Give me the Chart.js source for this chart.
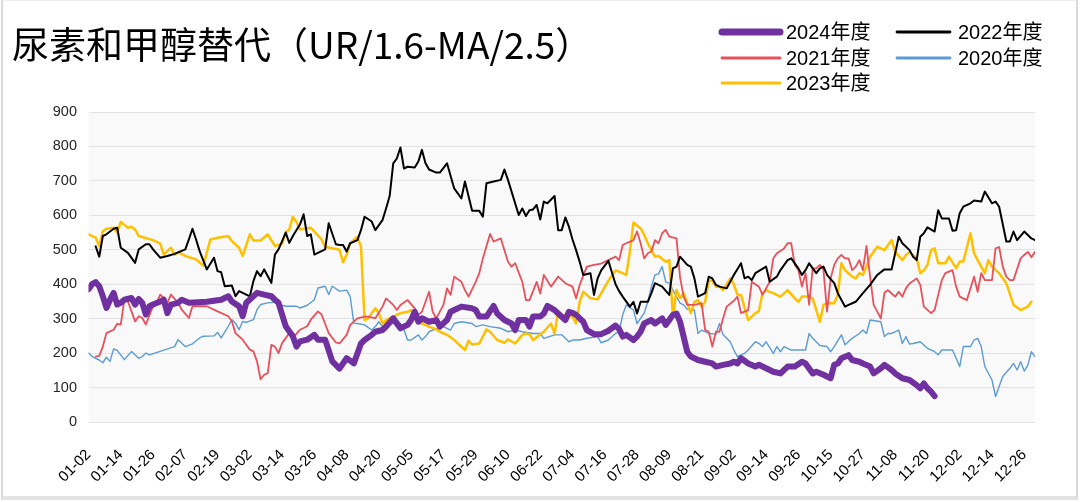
<!DOCTYPE html>
<html><head><meta charset="utf-8">
<script src="https://cdn.jsdelivr.net/npm/chart.js@4.4.1/dist/chart.umd.min.js"></script>
<style>
html,body{margin:0;padding:0;background:#fff;}
#wrap{position:relative;width:1080px;height:502px;overflow:hidden;}
#frame{position:absolute;left:1px;top:0;width:1073px;height:495px;border-left:2px solid #d9d9d9;border-right:2px solid #d9d9d9;border-bottom:4px solid #e3e3e3;border-top:1px solid #eeeeee;pointer-events:none;}
</style></head><body>
<div id="wrap"><canvas id="c" width="1080" height="502"></canvas><div id="frame"></div></div>
<script>
const titleText = '尿素和甲醇替代（UR/1.6-MA/2.5）';
const tickLabels = ['01-02','01-14','01-26','02-07','02-19','03-02','03-14','03-26','04-08','04-20','05-05','05-17','05-29','06-10','06-22','07-04','07-16','07-28','08-09','08-21','09-02','09-14','09-26','10-15','10-27','11-08','11-20','12-02','12-14','12-26'];
const tickStep = 9;
const lastDay = 264;
const yTicks = [0,100,200,300,400,500,600,700,800,900];

// [trading-day index, value]
const s2024 = [[0,385],[1,400],[2,406],[3,394],[4,365],[5,331],[6,355],[7,375],[8,341],[9,346],[10,355],[12,360],[13,341],[14,357],[15,346],[16,312],[17,336],[18,341],[20,350],[21,355],[22,316],[23,341],[25,346],[26,355],[28,346],[33,349],[37,355],[39,365],[40,350],[42,336],[43,307],[44,346],[46,365],[47,375],[49,370],[51,365],[52,355],[53,346],[54,312],[55,278],[57,249],[58,219],[59,234],[61,239],[63,253],[64,239],[66,239],[68,176],[70,155],[72,185],[73,178],[74,170],[76,228],[77,238],[79,253],[80,262],[82,267],[83,277],[85,301],[86,286],[87,272],[89,282],[90,296],[91,320],[92,291],[93,301],[95,291],[97,296],[98,277],[100,296],[101,320],[102,325],[104,335],[107,330],[108,325],[109,306],[111,306],[113,337],[114,315],[116,296],[118,286],[119,267],[120,296],[122,296],[123,277],[124,306],[126,306],[127,315],[128,337],[130,325],[131,315],[133,296],[134,320],[135,317],[136,311],[138,291],[139,267],[141,255],[143,255],[145,265],[147,280],[148,270],[149,248],[150,253],[152,238],[153,248],[154,262],[155,286],[157,296],[158,286],[160,301],[161,282],[162,296],[163,311],[164,315],[165,291],[167,204],[168,190],[170,180],[172,175],[174,170],[175,161],[177,166],[179,170],[180,175],[181,170],[182,185],[184,170],[186,161],[187,166],[189,156],[191,146],[193,141],[195,161],[197,161],[199,175],[200,170],[202,141],[203,146],[205,137],[207,127],[208,166],[209,170],[210,185],[212,194],[213,180],[215,175],[216,170],[218,161],[219,141],[221,156],[222,166],[224,151],[225,141],[227,127],[229,122],[231,107],[232,98],[233,112],[234,98],[235,88],[236,75]];

const s2022 = [[2,510],[3,480],[4,540],[5,545],[7,561],[8,564],[9,506],[11,491],[13,462],[14,501],[16,516],[17,516],[18,501],[20,477],[22,482],[24,488],[27,501],[28,530],[29,561],[30,530],[31,496],[33,443],[35,477],[36,438],[37,435],[38,394],[40,396],[41,365],[42,380],[44,370],[45,365],[46,409],[47,438],[48,423],[49,443],[51,404],[52,486],[53,501],[54,525],[55,550],[56,520],[57,540],[59,574],[60,603],[61,540],[62,545],[63,486],[66,501],[67,577],[69,516],[70,514],[71,514],[72,495],[73,519],[75,528],[76,557],[77,596],[79,582],[80,557],[82,586],[83,620],[84,656],[85,751],[86,765],[87,797],[88,736],[89,741],[91,739],[92,756],[93,790],[94,751],[95,733],[97,724],[98,724],[100,751],[102,678],[103,664],[104,649],[105,698],[107,613],[109,613],[110,596],[111,693],[113,698],[115,703],[116,733],[117,703],[120,601],[121,620],[122,598],[123,615],[124,617],[125,630],[126,588],[127,640],[128,635],[130,656],[131,557],[132,557],[133,594],[134,567],[135,530],[136,499],[137,465],[138,427],[140,432],[141,369],[142,417],[143,440],[145,468],[147,400],[148,380],[149,364],[151,335],[152,349],[153,315],[154,349],[156,349],[157,374],[158,403],[160,393],[162,369],[163,446],[164,451],[165,480],[167,456],[168,451],[169,417],[170,364],[171,369],[172,374],[173,422],[174,417],[175,398],[176,393],[178,388],[180,427],[182,461],[183,417],[184,422],[185,412],[186,432],[189,451],[190,407],[192,422],[193,441],[195,470],[196,475],[198,446],[199,427],[200,441],[201,461],[202,446],[203,432],[204,446],[205,451],[206,427],[207,415],[208,403],[209,374],[211,335],[212,340],[214,349],[216,374],[218,398],[220,427],[222,443],[224,443],[225,490],[226,538],[227,519],[229,499],[230,480],[231,470],[232,538],[233,548],[234,565],[236,553],[237,615],[238,591],[240,591],[241,555],[242,557],[243,606],[244,625],[246,635],[247,643],[249,640],[250,669],[252,635],[253,640],[254,625],[256,524],[257,524],[258,553],[259,528],[261,553],[263,533],[264,528]];

const s2021 = [[2,190],[3,192],[4,219],[5,258],[7,268],[8,285],[9,283],[10,355],[11,350],[13,292],[14,307],[15,302],[16,283],[18,336],[19,346],[20,370],[21,360],[22,346],[23,370],[25,346],[26,326],[28,302],[29,336],[33,336],[36,321],[39,307],[40,292],[41,258],[43,239],[45,210],[46,205],[47,176],[48,124],[49,137],[50,142],[51,224],[52,219],[53,200],[54,229],[56,258],[57,244],[59,268],[61,278],[62,297],[64,321],[65,312],[67,258],[69,231],[70,228],[72,253],[73,282],[75,301],[77,306],[78,306],[80,301],[82,335],[83,359],[85,340],[86,325],[87,340],[89,354],[91,330],[92,311],[93,320],[95,378],[96,320],[97,301],[99,340],[100,388],[101,369],[102,422],[104,407],[105,383],[106,364],[108,407],[109,432],[110,475],[112,546],[113,524],[115,533],[117,465],[118,451],[119,461],[121,407],[122,354],[123,354],[125,407],[126,373],[127,427],[129,393],[131,422],[133,403],[135,393],[136,359],[137,398],[139,451],[141,456],[143,460],[145,470],[147,480],[148,470],[149,514],[150,519],[152,528],[153,553],[154,519],[155,475],[156,490],[157,495],[158,528],[159,519],[160,548],[161,558],[162,538],[164,533],[165,420],[166,364],[167,340],[169,340],[171,345],[172,267],[173,262],[174,219],[175,262],[176,262],[177,301],[178,335],[180,352],[181,364],[182,316],[184,325],[185,407],[187,393],[188,369],[190,407],[191,475],[192,490],[194,504],[195,519],[196,519],[197,456],[198,441],[199,393],[200,432],[201,340],[202,446],[203,446],[204,456],[205,441],[206,320],[207,417],[208,456],[209,475],[210,485],[211,475],[212,475],[213,441],[214,451],[215,470],[216,441],[217,511],[218,422],[219,340],[221,301],[222,375],[223,383],[224,373],[225,364],[226,378],[227,364],[228,388],[229,402],[231,417],[232,398],[233,335],[235,316],[236,325],[238,412],[239,432],[241,441],[242,393],[243,364],[245,354],[247,422],[248,378],[249,432],[250,412],[252,412],[253,504],[254,508],[255,451],[256,422],[257,412],[258,412],[260,475],[261,485],[262,494],[263,478],[264,494]];

const s2020 = [[0,200],[1,190],[3,180],[4,172],[5,188],[6,176],[7,212],[8,208],[10,181],[12,205],[14,185],[15,190],[16,200],[17,195],[24,219],[25,239],[27,219],[29,227],[31,244],[32,249],[35,250],[36,260],[37,244],[39,278],[40,297],[41,287],[42,268],[43,292],[44,289],[46,297],[47,326],[48,341],[50,346],[52,348],[53,341],[55,336],[58,336],[59,331],[61,339],[63,355],[64,389],[66,394],[67,370],[68,394],[70,380],[72,383],[73,364],[74,287],[75,286],[77,282],[79,267],[80,277],[81,291],[82,277],[83,286],[85,286],[86,296],[87,286],[88,267],[89,238],[90,238],[92,253],[93,238],[94,248],[95,262],[96,267],[98,272],[99,277],[101,267],[102,286],[104,291],[107,286],[108,277],[110,282],[112,277],[115,272],[117,262],[119,267],[121,262],[124,257],[126,257],[127,243],[130,253],[132,253],[134,233],[135,238],[137,238],[139,243],[142,248],[143,230],[145,238],[147,257],[148,262],[149,311],[150,340],[152,325],[153,286],[155,316],[156,349],[157,393],[158,427],[159,430],[160,451],[161,407],[162,403],[163,383],[165,345],[166,340],[167,327],[169,325],[170,257],[171,267],[173,257],[175,255],[176,286],[177,253],[179,233],[180,209],[181,190],[183,199],[184,209],[186,233],[187,228],[188,219],[189,233],[191,199],[192,219],[193,204],[194,219],[196,209],[199,209],[200,209],[201,257],[202,243],[204,222],[206,219],[207,204],[208,219],[210,253],[211,224],[213,243],[215,257],[216,267],[217,257],[218,296],[221,291],[222,248],[223,257],[224,257],[226,267],[227,228],[228,248],[229,226],[230,228],[232,233],[234,214],[236,204],[237,195],[238,209],[241,209],[243,161],[244,219],[246,219],[247,238],[248,243],[249,219],[250,161],[252,122],[253,74],[254,103],[255,132],[257,156],[258,170],[259,151],[260,175],[261,148],[262,165],[263,204],[264,190]];

const s2023 = [[0,545],[2,535],[3,511],[4,554],[5,561],[7,564],[8,550],[9,581],[11,564],[12,567],[13,559],[14,540],[18,528],[20,518],[21,486],[23,506],[24,486],[25,493],[27,482],[30,472],[32,454],[34,530],[36,535],[39,540],[40,525],[42,506],[43,482],[45,545],[46,527],[48,527],[50,545],[52,511],[54,518],[55,550],[56,559],[57,596],[58,581],[59,559],[62,564],[65,530],[66,509],[70,500],[71,464],[72,486],[73,520],[75,537],[76,509],[77,296],[78,301],[80,330],[81,316],[82,286],[83,296],[84,301],[85,306],[87,316],[89,320],[90,325],[91,306],[93,286],[95,277],[97,269],[98,262],[100,253],[102,238],[103,228],[105,209],[106,236],[107,225],[109,228],[111,269],[112,262],[114,238],[116,230],[117,240],[119,228],[121,253],[122,257],[123,255],[124,238],[127,262],[129,286],[130,257],[131,320],[132,311],[135,306],[136,286],[137,349],[138,378],[139,369],[140,359],[142,356],[145,410],[147,440],[149,432],[150,427],[151,495],[152,579],[154,562],[155,543],[156,519],[157,499],[158,480],[159,482],[161,465],[162,470],[163,306],[164,383],[165,360],[166,374],[167,345],[168,316],[169,349],[170,354],[171,335],[172,349],[173,412],[174,410],[175,393],[176,393],[177,383],[179,417],[180,400],[181,370],[182,369],[184,296],[186,316],[187,322],[188,374],[189,383],[190,378],[191,374],[193,364],[195,383],[197,359],[198,349],[199,364],[201,364],[202,359],[204,291],[205,340],[206,345],[208,345],[209,370],[210,461],[211,441],[213,422],[214,417],[215,432],[216,427],[217,451],[218,480],[220,509],[222,499],[223,514],[224,528],[225,494],[227,470],[228,485],[229,494],[231,475],[232,432],[233,441],[234,456],[235,499],[236,504],[237,461],[239,461],[240,480],[242,446],[243,466],[244,466],[246,548],[247,490],[248,470],[250,432],[251,470],[252,451],[254,432],[256,403],[258,340],[260,325],[262,335],[263,349]];

const seriesNames = ['2024年度','2022年度','2021年度','2023年度','2020年度'];
const seriesData = [s2024, s2022, s2021, s2023, s2020];
const seriesColors = ['#7030A0','#000000','#E8505B','#FFC000','#5B9BD5'];
const seriesWidths = [6, 2, 1.8, 2.5, 1.4];
const legendOrder = ['2024年度','2022年度','2021年度','2020年度','2023年度'];

const datasets = seriesNames.map((name, k) => ({
  label: name,
  data: seriesData[k].map(p => ({x: p[0], y: p[1]})),
  borderColor: seriesColors[k],
  backgroundColor: seriesColors[k],
  borderWidth: seriesWidths[k],
  pointRadius: 0,
  pointHoverRadius: 0,
  tension: 0,
  fill: false,
  borderJoinStyle: 'round',
  borderCapStyle: 'round'
}));

const plotBg = {
  id: 'plotBg',
  beforeDraw(chart) {
    const a = chart.chartArea, ctx = chart.ctx;
    ctx.save();
    ctx.fillStyle = '#f9f9f9';
    ctx.fillRect(a.left, a.top, a.right - a.left, a.bottom - a.top);
    ctx.restore();
  }
};

const cornerLegend = {
  id: 'cornerLegend',
  afterDraw(chart) {
    const ctx = chart.ctx;
    const cols = [{x0: 722, x1: 780, tx: 786}, {x0: 897, x1: 950, tx: 958}];
    const rows = [32, 58, 83];
    ctx.save();
    ctx.font = '20px "Liberation Sans", "Noto Sans CJK SC", sans-serif';
    ctx.textBaseline = 'middle';
    ctx.textAlign = 'left';
    legendOrder.forEach((name, k) => {
      const ds = chart.data.datasets.find(d => d.label === name);
      const c = cols[k % 2], y = rows[Math.floor(k / 2)];
      ctx.beginPath();
      ctx.strokeStyle = ds.borderColor;
      ctx.lineWidth = ds.borderWidth > 4 ? 7 : 2.8;
      ctx.lineCap = 'round';
      ctx.moveTo(c.x0, y);
      ctx.lineTo(c.x1, y);
      ctx.stroke();
      ctx.fillStyle = '#000';
      ctx.fillText(name, c.tx, y + 1);
    });
    ctx.restore();
  }
};

new Chart(document.getElementById('c'), {
  type: 'line',
  data: { datasets },
  plugins: [plotBg, cornerLegend],
  options: {
    responsive: false,
    animation: false,
    events: [],
    layout: { padding: { left: 12, right: 45, top: 0, bottom: 0 } },
    plugins: {
      legend: { display: false },
      tooltip: { enabled: false },
      title: {
        display: true,
        text: titleText,
        align: 'start',
        color: '#000',
        font: { family: '"Noto Sans CJK SC", sans-serif', size: 37, weight: 'normal', lineHeight: 1.2 },
        padding: { top: 23, bottom: 44.6 }
      }
    },
    scales: {
      x: {
        type: 'linear',
        min: 0,
        max: lastDay,
        grid: { display: false, drawTicks: false },
        border: { display: false },
        afterBuildTicks(scale) {
          scale.ticks = tickLabels.map((_, k) => ({ value: k * tickStep }));
        },
        afterFit(scale) { scale.height = 80; },
        ticks: {
          autoSkip: false,
          maxRotation: 45,
          minRotation: 45,
          padding: 24,
          color: '#000',
          font: { family: '"Liberation Sans", sans-serif', size: 15 },
          callback: (v, i) => tickLabels[i]
        }
      },
      y: {
        min: 0,
        max: 900,
        afterFit(scale) { scale.width = 76.5; },
        afterBuildTicks(scale) {
          scale.ticks = yTicks.map(v => ({ value: v }));
        },
        grid: { color: '#e2e2e2', lineWidth: 1, drawTicks: false },
        border: { display: false },
        ticks: {
          padding: 11.5,
          color: '#262626',
          font: { family: '"Liberation Sans", sans-serif', size: 14.5 }
        }
      }
    }
  }
});
</script>
</body></html>
